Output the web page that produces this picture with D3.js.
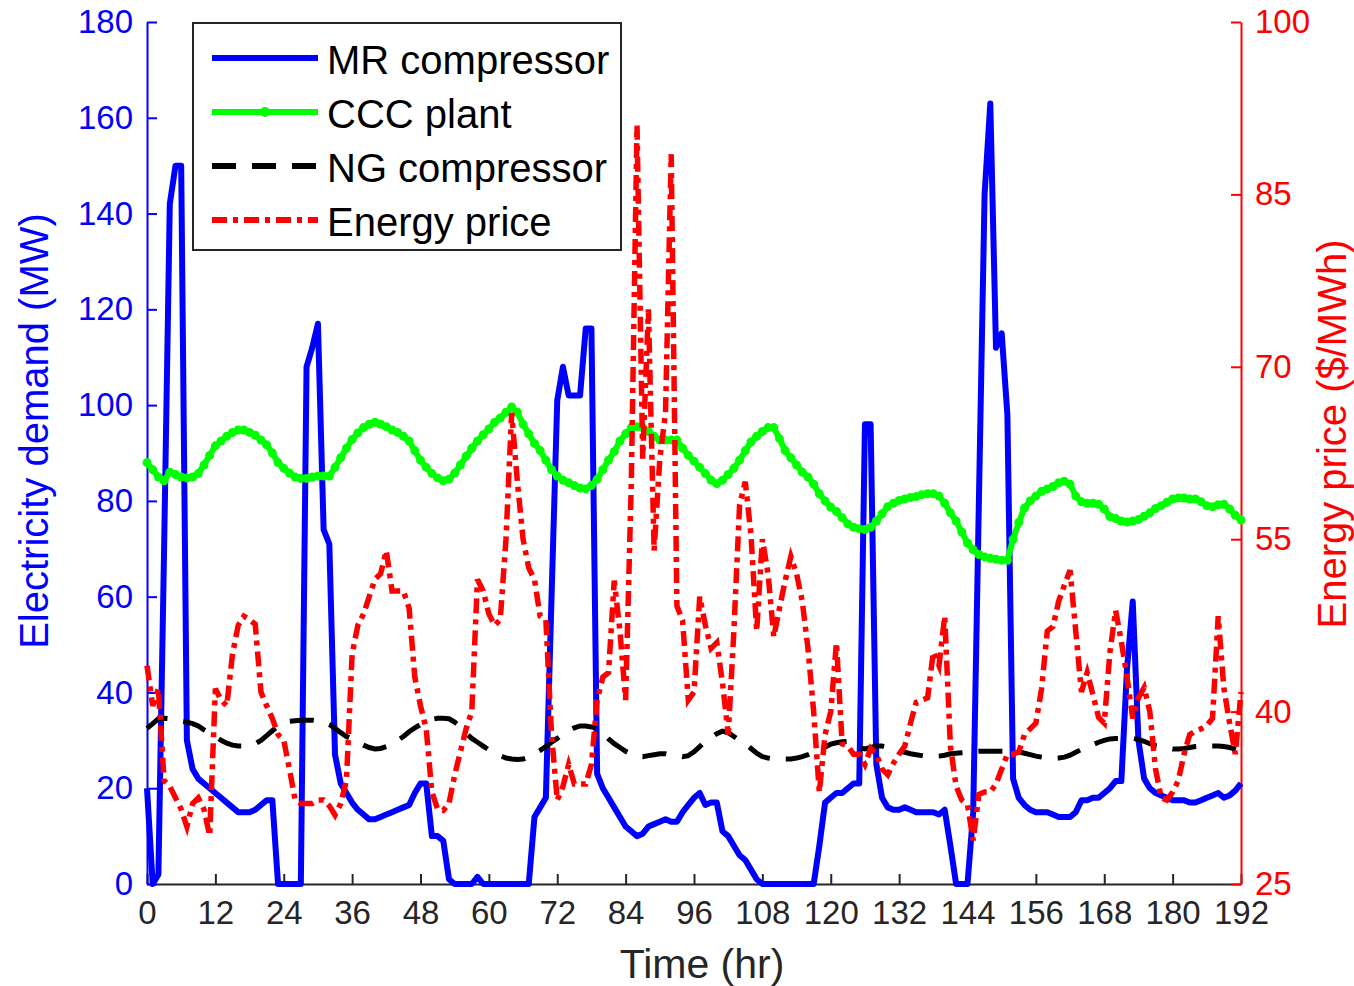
<!DOCTYPE html>
<html>
<head>
<meta charset="utf-8">
<script src="https://cdn.jsdelivr.net/npm/d3@7"></script>
<style>
  body { margin: 0; background: #fff; }
  svg { font-family: "Liberation Sans", Arial, sans-serif; }
</style>
</head>
<body>
<svg></svg>
<script>
let width = 1354;
let height = 986;

// hourly samples, 0..192 h
let hours = d3.range(0, 193);

let xTicks = [0, 12, 24, 36, 48, 60, 72, 84, 96, 108, 120, 132, 144, 156, 168, 180, 192];
let leftTicks = [0, 20, 40, 60, 80, 100, 120, 140, 160, 180];
let rightTicks = [25, 40, 55, 70, 85, 100];

let seriesNames = ["MR compressor", "CCC plant", "NG compressor", "Energy price"];

// MW
let mrCompressor = [
  20, 0, 2, 70, 142, 150, 150, 30, 24, 22, 21, 20, 19, 18, 17, 16, 15, 15, 15, 15.5,
  16.5, 17.5, 17.5, 0, 0, 0, 0, 0, 108, 112, 117, 74, 71, 27, 21, 19, 17, 15.5, 14.5, 13.5,
  13.5, 14, 14.5, 15, 15.5, 16, 16.5, 19, 21, 21, 10, 10, 9, 1, 0, 0, 0, 0, 1.5, 0,
  0, 0, 0, 0, 0, 0, 0, 0, 14, 16, 18, 60, 101, 108, 102, 102, 102, 116, 116, 23,
  20, 18, 16, 14, 12, 11, 10, 10.5, 12, 12.5, 13, 13.5, 13, 13, 15, 16.5, 18, 19, 16.5, 17,
  17, 11, 10, 8, 6, 5, 3, 1, 0, 0, 0, 0, 0, 0, 0, 0, 0, 0, 8, 17,
  18, 19, 19, 20, 21, 21, 96, 96, 25, 18, 16, 15.5, 15.5, 16, 15.5, 15, 15, 15, 15, 14.5,
  15.5, 8, 0, 0, 0, 15, 80, 144, 163, 112, 115, 98, 22, 18, 16.5, 15.5, 15, 15, 15, 14.5,
  14, 14, 14, 15, 17.5, 17.5, 18, 18, 19, 20, 21.5, 21.5, 45, 59, 30, 22, 20, 19, 18.5, 18,
  17.5, 17.5, 17.5, 17, 17, 17.5, 18, 18.5, 19, 18, 18.5, 19.5, 21
];

// MW
let cccPlant = [
  88, 86.5, 85, 84.2, 86, 85.5, 85, 84.8, 85, 85.7, 87.5, 89.5, 91.5, 92.5, 93.5, 94.3, 94.8, 94.8, 94.3, 93.7,
  92.7, 91.7, 90, 88, 86.8, 85.8, 85, 84.7, 84.7, 85, 85.2, 85.2, 85.2, 87, 89, 91, 92.8, 94.2, 95.3, 96,
  96.4, 96, 95.5, 94.8, 94.3, 93.5, 92.5, 90.5, 88.5, 87, 85.7, 84.8, 84.2, 84.5, 85.8, 87.5, 89.3, 91, 92.5, 93.8,
  95, 96.4, 97.3, 98.5, 99.6, 98.5, 96, 94, 92, 90.5, 88.5, 86.5, 85.2, 84.3, 83.8, 83.2, 82.7, 82.5, 83.2, 84.5,
  86.5, 88.5, 90.3, 92.5, 94, 95.3, 95.5, 95.3, 94.5, 93.5, 92.7, 92.7, 92.7, 92.7, 91, 89.5, 88.3, 87, 85.7, 84.3,
  83.6, 84.3, 85.5, 86.8, 88.5, 90.5, 92.3, 93.5, 94.5, 95.3, 95.3, 93, 90.5, 89, 87.5, 86, 85, 83.5, 81.5, 80,
  78.7, 77.8, 76.5, 75.2, 74.5, 74.2, 74, 74.5, 75.8, 77.3, 78.8, 79.5, 80.1, 80.4, 80.7, 80.9, 81.3, 81.5, 81.5, 81,
  79.5, 77.5, 75.8, 73.5, 71.2, 69.8, 68.8, 68.3, 68, 67.8, 67.6, 67.6, 72, 75.5, 78.5, 80, 81, 82, 82.5, 83,
  83.8, 84.1, 83.5, 81, 79.8, 79.5, 79.5, 79.3, 78.3, 76.7, 76.3, 75.8, 75.6, 75.8, 76.1, 76.8, 77.5, 78.4, 79, 79.7,
  80.4, 80.6, 80.6, 80.4, 80.4, 79.8, 79, 78.8, 79.2, 79.3, 78.3, 77, 76
];

// MW
let ngCompressor = [
  32.5, 33.5, 34.5, 34.6, 34.5, 34.2, 34, 33.8, 33.5, 33, 32.2, 31.5, 30.8, 30, 29.4, 29, 28.8, 28.8, 29, 29.3,
  30, 31, 32, 33, 33.6, 34, 34.1, 34.2, 34.2, 34.2, 34.1, 33.8, 33.3, 32.5, 31.6, 30.8, 30.3, 29.6, 29, 28.5,
  28.2, 28.3, 28.7, 29.2, 30, 30.8, 31.8, 32.6, 33.3, 34, 34.4, 34.6, 34.6, 34.5, 33.8, 32.8, 31.5, 30.4, 29.6, 28.8,
  28, 27.3, 26.8, 26.3, 26.1, 26, 26.1, 26.5, 27.2, 27.9, 28.7, 29.6, 30.4, 31.3, 32, 32.6, 33, 33, 32.8, 32.5,
  31.5, 30.3, 29.3, 28.5, 27.7, 27.1, 26.7, 26.6, 26.8, 27, 27.2, 27.2, 27, 26.8, 26.6, 26.8, 27.6, 28.7, 29.8, 30.6,
  31.4, 31.9, 31.6, 30.8, 30, 29.3, 28.3, 27.3, 26.6, 26.3, 26.1, 26.1, 26.1, 26.1, 26.3, 26.6, 27, 27.5, 28, 28.6,
  29.2, 29.5, 29.7, 29.8, 29.5, 28.5, 28.2, 28.5, 28.8, 28.8, 28.5, 28, 27.7, 27.5, 27.2, 27, 26.8, 26.6, 26.6, 26.7,
  26.9, 27.2, 27.3, 27.4, 27.5, 27.6, 27.7, 27.7, 27.7, 27.7, 27.7, 27.7, 27.7, 27.6, 27.3, 27, 26.7, 26.5, 26.3, 26.2,
  26.3, 26.5, 26.9, 27.5, 28.1, 28.6, 29.1, 29.6, 30, 30.3, 30.4, 30.4, 30.4, 30.4, 30.2, 29.8, 29.3, 28.9, 28.7, 28.5,
  28.2, 28.2, 28.3, 28.5, 28.7, 28.8, 28.8, 28.8, 28.8, 28.7, 28.5, 28.2, 27.8
];

// $/MWh
let energyPrice = [
  44, 40.5, 42, 34, 33.5, 32.5, 31.5, 30, 32, 32.5, 31.5, 29.2, 42, 41, 40.5, 45, 47.5, 48.3, 48, 47.6,
  41.7, 40.5, 39.4, 38, 37.5, 35, 32.3, 32, 32, 32, 32.3, 32.3, 31.8, 31, 32, 34, 45, 47.5, 48.5, 50,
  51.5, 52, 54, 50.5, 50.5, 50.5, 49, 43, 40.5, 38.5, 33, 31.5, 31.4, 32, 34.5, 36.5, 38.5, 40, 51.5, 50.5,
  48.5, 47.5, 48, 55, 66, 60, 55, 52.5, 51.5, 48.3, 48, 38, 32.3, 33.5, 35.4, 33.7, 33.7, 33.7, 35.4, 41,
  43, 43.4, 51.4, 47, 41, 60, 91, 62, 75, 54, 62, 66, 88.5, 49.2, 47.9, 41, 41.7, 50, 47.5, 45.5,
  46, 42.5, 38, 47, 58, 60, 55.4, 47, 55, 52, 46.5, 49, 51.4, 53.5, 52, 49.6, 45.5, 40, 33, 38,
  40, 46, 37.2, 37, 36.3, 36.3, 35.4, 36.8, 36.3, 35, 34.5, 35.5, 36.3, 37, 39, 40.8, 41, 41.2, 45.2, 44,
  48.3, 37, 33.5, 32.3, 31.9, 28.8, 32.8, 33, 33, 33.7, 35, 36.3, 36.3, 36.5, 38, 38.5, 39, 42, 47, 47.4,
  49.6, 51, 52.3, 47, 41.7, 43.4, 41.5, 39.5, 39, 45.2, 48.8, 46.1, 43, 39.4, 41.2, 42.1, 40, 35, 32.5, 32.3,
  33, 34, 36.3, 38, 38.3, 38.5, 38.8, 39.4, 48.3, 42, 39, 36.3, 41.7
];

let x0 = 147, x1 = 1241, yTop = 22, yBot = 884;

let xScale = d3.scaleLinear().domain([0, 192]).range([x0, x1]);
let yLeft = d3.scaleLinear().domain([0, 180]).range([yBot, yTop]);
let yRight = d3.scaleLinear().domain([25, 100]).range([yBot, yTop]);

let blue = "#0000ff", green = "#00ff00", red = "#ff0000", axisGray = "#262626";

let svg = d3.select("svg")
    .attr("width", width)
    .attr("height", height);

// axes
let xAxis = d3.axisBottom(xScale)
    .tickValues(xTicks)
    .tickSizeInner(-10)
    .tickSizeOuter(0)
    .tickPadding(17);

let leftAxis = d3.axisLeft(yLeft)
    .tickValues(leftTicks)
    .tickSizeInner(-10)
    .tickSizeOuter(0)
    .tickPadding(14);

let rightAxis = d3.axisRight(yRight)
    .tickValues(rightTicks)
    .tickSizeInner(-10)
    .tickSizeOuter(0)
    .tickPadding(14);

let gx = svg.append("g")
    .attr("transform", "translate(0," + yBot + ")")
    .call(xAxis);
gx.selectAll("text").attr("font-size", 33).attr("fill", axisGray).attr("font-family", null);
gx.selectAll("line").attr("stroke", axisGray).attr("stroke-width", 2);
gx.select(".domain").attr("stroke", axisGray).attr("stroke-width", 2);

let gl = svg.append("g")
    .attr("transform", "translate(" + x0 + ",0)")
    .call(leftAxis);
gl.selectAll("text").attr("font-size", 33).attr("fill", blue).attr("font-family", null);
gl.selectAll("line").attr("stroke", blue).attr("stroke-width", 2);
gl.select(".domain").attr("stroke", blue).attr("stroke-width", 2);

let gr = svg.append("g")
    .attr("transform", "translate(" + x1 + ",0)")
    .call(rightAxis);
gr.selectAll("text").attr("font-size", 33).attr("fill", red).attr("font-family", null);
gr.selectAll("line").attr("stroke", red).attr("stroke-width", 2);
gr.select(".domain").attr("stroke", red).attr("stroke-width", 2);

// axis titles
svg.append("text")
    .attr("x", (x0 + x1) / 2 + 8)
    .attr("y", 978)
    .attr("text-anchor", "middle")
    .attr("font-size", 41)
    .attr("fill", axisGray)
    .text("Time (hr)");

svg.append("text")
    .attr("transform", "translate(48," + 431 + ") rotate(-90)")
    .attr("text-anchor", "middle")
    .attr("font-size", 40)
    .attr("fill", blue)
    .text("Electricity demand (MW)");

svg.append("text")
    .attr("transform", "translate(1346," + 434 + ") rotate(-90)")
    .attr("text-anchor", "middle")
    .attr("font-size", 40)
    .attr("fill", red)
    .text("Energy price ($/MWh)");

// series
let lineLeft = vals => d3.line()
    .x((d, i) => xScale(hours[i]))
    .y(d => yLeft(d))(vals);

let lineRight = vals => d3.line()
    .x((d, i) => xScale(hours[i]))
    .y(d => yRight(d))(vals);

svg.append("path")
    .attr("d", lineLeft(mrCompressor))
    .attr("fill", "none")
    .attr("stroke", blue)
    .attr("stroke-width", 6)
    .attr("stroke-linejoin", "round");

svg.append("path")
    .attr("d", lineLeft(cccPlant))
    .attr("fill", "none")
    .attr("stroke", green)
    .attr("stroke-width", 6);

svg.append("g")
    .selectAll("circle")
    .data(cccPlant)
    .enter()
    .append("circle")
    .attr("cx", (d, i) => xScale(hours[i]))
    .attr("cy", d => yLeft(d))
    .attr("r", 4.5)
    .attr("fill", green);

svg.append("path")
    .attr("d", lineLeft(ngCompressor))
    .attr("fill", "none")
    .attr("stroke", "#000")
    .attr("stroke-width", 5)
    .attr("stroke-dasharray", "24,16");

svg.append("path")
    .attr("d", lineRight(energyPrice))
    .attr("fill", "none")
    .attr("stroke", red)
    .attr("stroke-width", 5.5)
    .attr("stroke-dasharray", "15,6,5,6");

// legend
let legend = svg.append("g");
legend.append("rect")
    .attr("x", 193)
    .attr("y", 23)
    .attr("width", 428)
    .attr("height", 227)
    .attr("fill", "#fff")
    .attr("stroke", axisGray)
    .attr("stroke-width", 2);

let legendStyles = [
  {color: blue, dash: null, marker: false},
  {color: green, dash: null, marker: true},
  {color: "#000", dash: "24,16", marker: false},
  {color: red, dash: "15,6,5,6", marker: false}
];

seriesNames.forEach((name, i) => {
  let cy = 58 + i * 54;
  let st = legendStyles[i];
  legend.append("line")
      .attr("x1", 212).attr("x2", 318)
      .attr("y1", cy).attr("y2", cy)
      .attr("stroke", st.color)
      .attr("stroke-width", 6)
      .attr("stroke-dasharray", st.dash);
  if (st.marker) {
    legend.append("circle")
        .attr("cx", 265).attr("cy", cy).attr("r", 5)
        .attr("fill", st.color);
  }
  legend.append("text")
      .attr("x", 327)
      .attr("y", cy + 2)
      .attr("dy", "0.35em")
      .attr("font-size", 40)
      .attr("fill", "#000")
      .text(name);
});
</script>
</body>
</html>
